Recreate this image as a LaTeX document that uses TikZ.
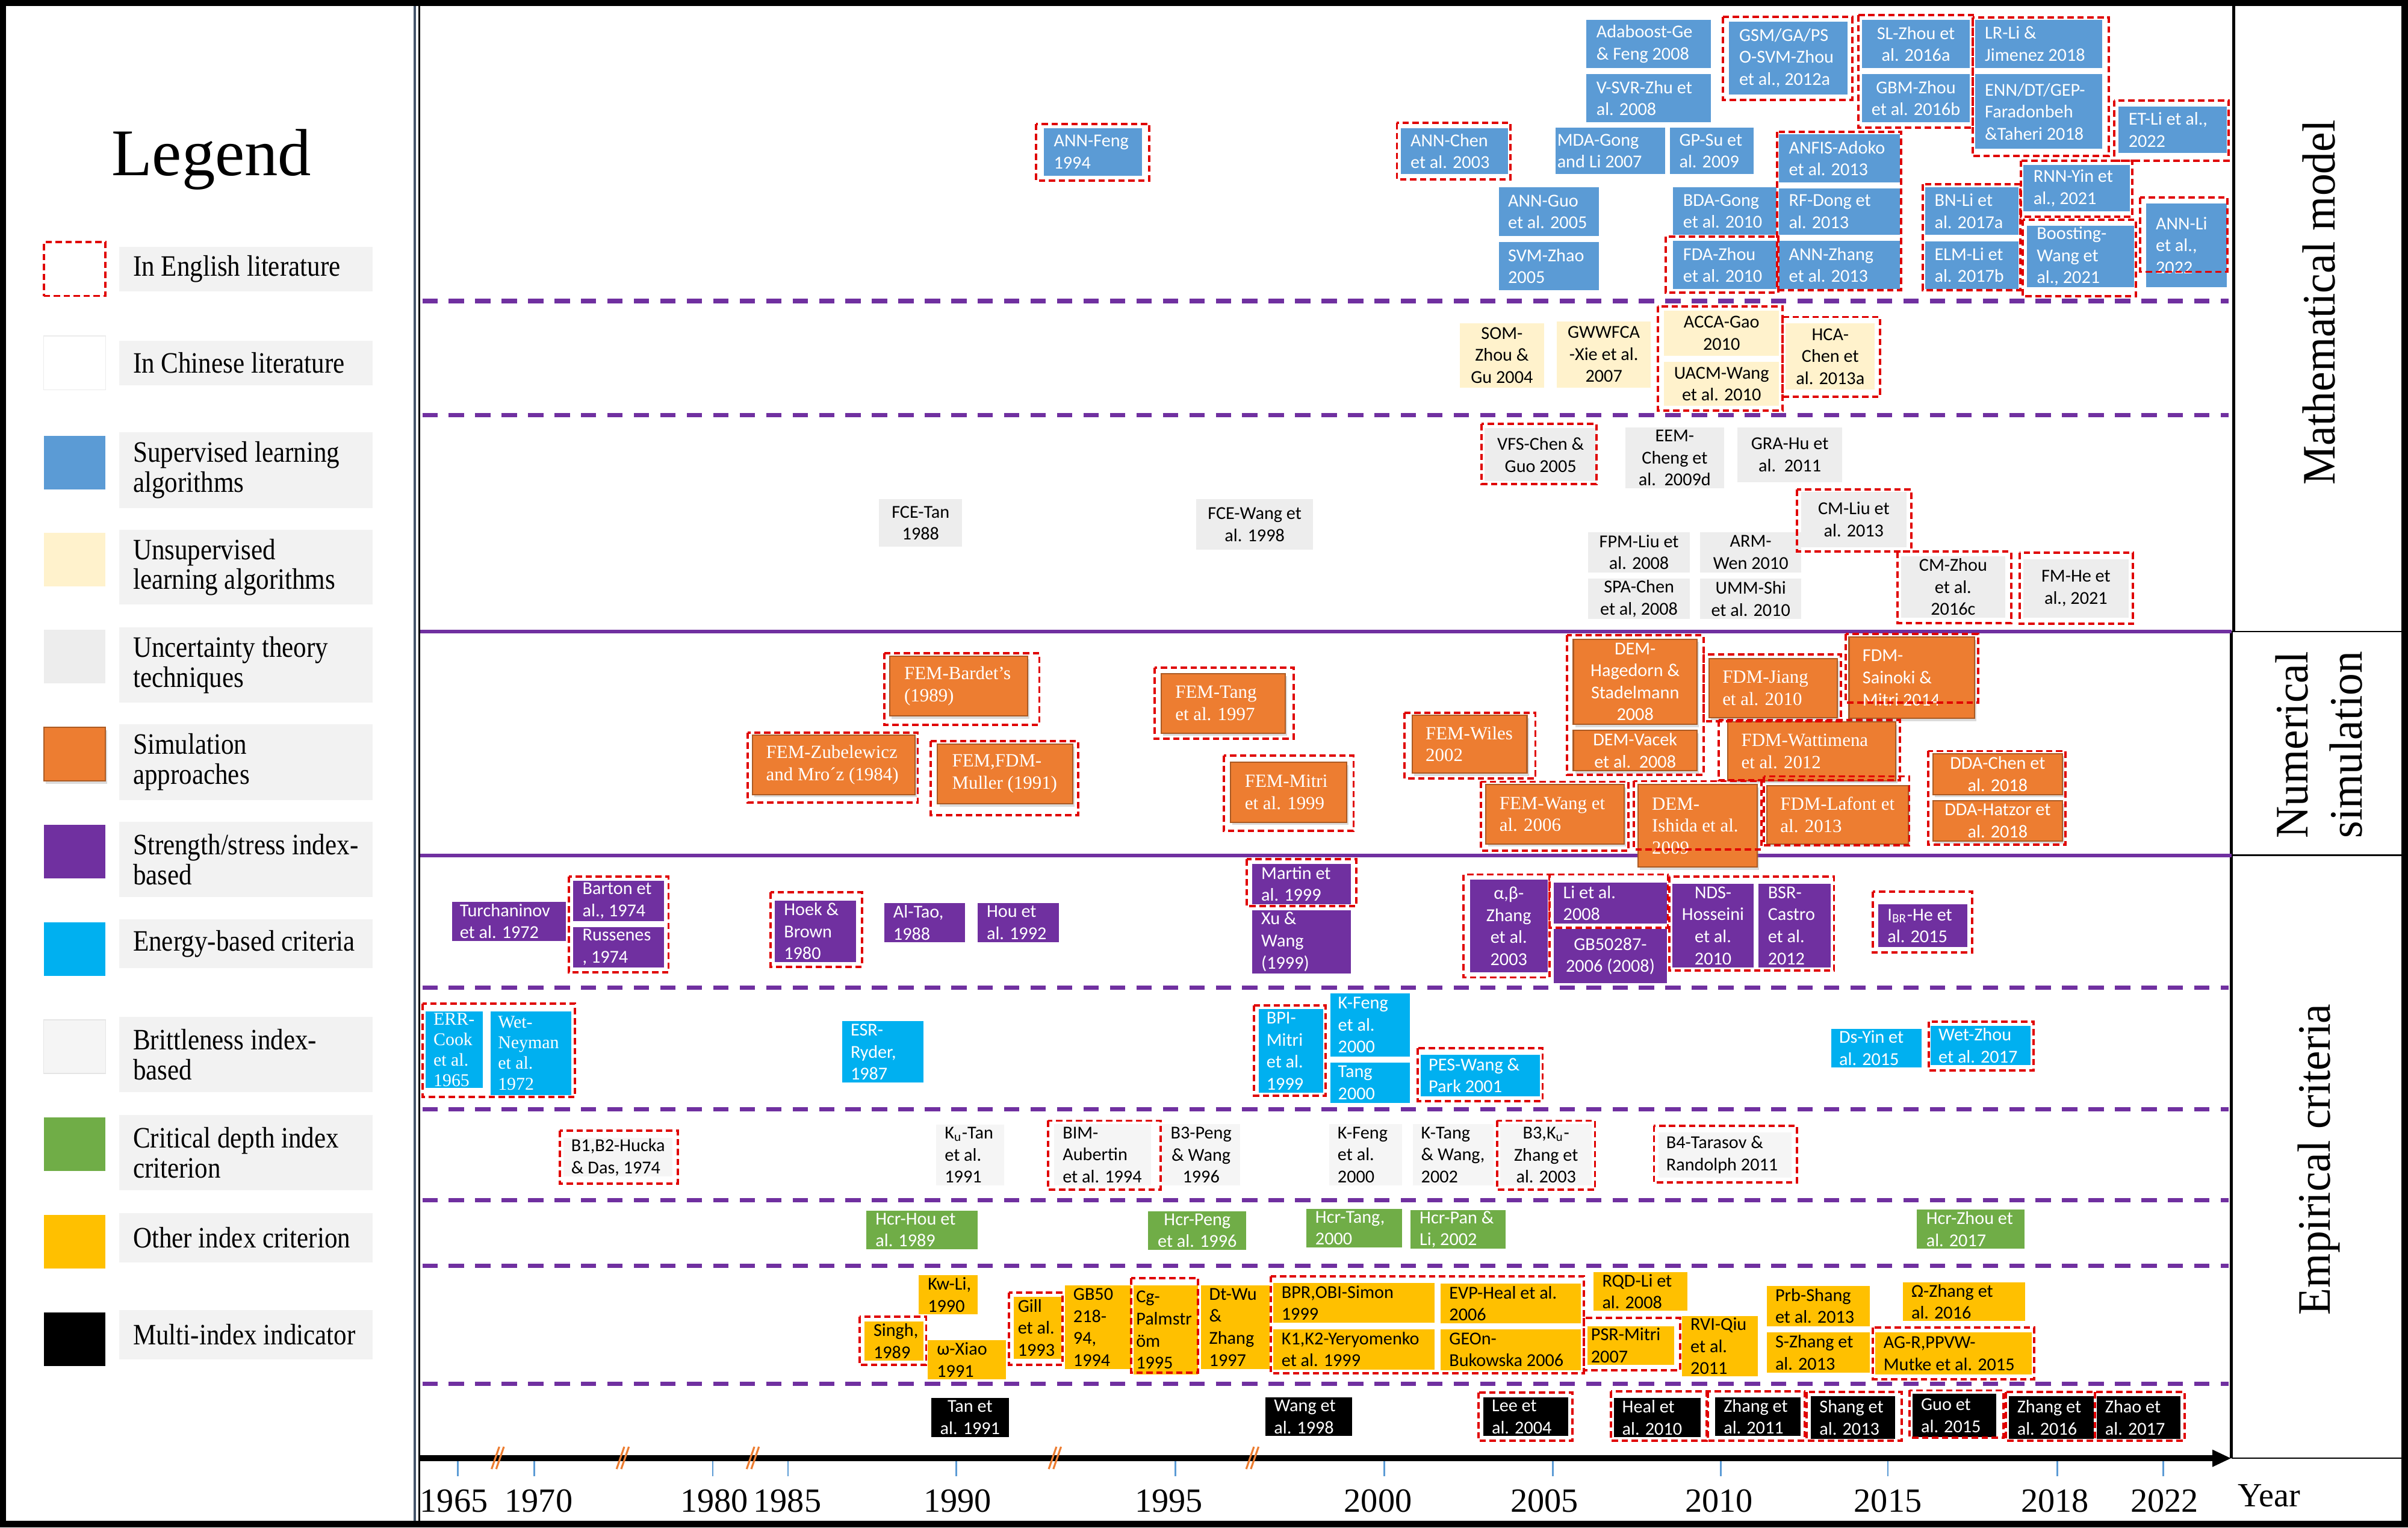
\documentclass[tikz,border=0pt]{standalone}
\usepackage{fontspec}
\setmainfont{Liberation Serif}
\newfontfamily\cbfont{Carlito}
\newfontfamily\legfont[FakeStretch=0.875]{Liberation Serif}
\newfontfamily\sidefont[FakeStretch=0.95]{Liberation Serif}
\usetikzlibrary{arrows.meta,shadows}
\definecolor{cSup}{HTML}{5B9BD5}
\definecolor{cUns}{HTML}{FFF2CC}
\definecolor{cUnc}{HTML}{EDEDED}
\definecolor{cSim}{HTML}{ED7D31}
\definecolor{cStr}{HTML}{7030A0}
\definecolor{cEne}{HTML}{00B0F0}
\definecolor{cBri}{HTML}{F5F5F5}
\definecolor{cCri}{HTML}{70AD47}
\definecolor{cOth}{HTML}{FFC000}
\definecolor{cRed}{HTML}{E00000}
\definecolor{cPur}{HTML}{7030A0}
\definecolor{cLeg}{HTML}{F2F2F2}
\definecolor{cTick}{HTML}{5B9BD5}
\definecolor{cFrame}{HTML}{44546A}
\def\upt{0.725835}
\def\bxc{c}
\newcommand{\bx}[8][5.5]{%
  \pgfmathsetmacro\bxw{(#6-#4)*\upt}%
  \pgfmathsetmacro\bxh{(#7-#5)*\upt}%
  \node[boxbg,#3,bgpart,minimum width=\bxw pt,minimum height=\bxh pt] (#2) at ({(#4+#6)/2},{(#5+#7)/2}) {};%
  \def\bxopt{#1}%
  \ifx\bxopt\bxc
    \node[boxtxt,#3,fill=none,draw=none,align=center] (#2t) at (#2.center) {#8};%
  \else
    \node[boxtxt,#3,fill=none,draw=none,align=left,anchor=west] (#2t) at ({#4+#1},{(#5+#7)/2}) {#8};%
  \fi}
\newcommand{\en}[4]{\draw[eng] (#1,#2) rectangle (#3,#4);}
\newcommand{\legitem}[6]{%
  \node[swatch,#2,bgpart,anchor=north west] (#1s) at (28.5,#3) {};%
  \pgfmathsetmacro\lgh{(#5-#4)*\upt}%
  \node[legbg,anchor=north west,minimum height=\lgh pt] (#1b) at (77.8,#4) {};%
  \node[legtxt,anchor=west] (#1t) at (86.4,{(#4+#5)/2}) {#6};}
\tikzset{
  bgpart/.style={},
  boxbg/.style={inner sep=0pt,outer sep=0pt,draw=none},
  boxtxt/.style={inner sep=0pt,outer sep=0pt,text=black,font=\cbfont\fontsize{8.6}{10.4}\selectfont},
  bxsup/.style={fill=cSup,text=white},
  bxuns/.style={fill=cUns,text=black},
  bxunc/.style={fill=cUnc,text=black},
  bxsim/.style={fill=cSim,draw=cSim!72!black,line width=0.6pt,text=white,font=\rmfamily\fontsize{8.8}{10.4}\selectfont,
     bgpart/.style={drop shadow={opacity=0.28,shadow xshift=0.9pt,shadow yshift=-1.3pt}}},
  sansbx/.style={font=\cbfont\fontsize{8.6}{10.4}\selectfont},
  seriftxt/.style={font=\rmfamily\fontsize{8.5}{9.7}\selectfont},
  bxstr/.style={fill=cStr,text=white},
  bxene/.style={fill=cEne,text=white},
  bxbri/.style={fill=cBri,text=black},
  bxcri/.style={fill=cCri,text=white},
  bxoth/.style={fill=cOth,text=black},
  bxmul/.style={fill=black,text=white},
  eng/.style={draw=cRed,line width=1.1pt,dash pattern=on 3pt off 1.7pt},
  subsep/.style={draw=cPur,line width=2pt,dash pattern=on 7.2pt off 5.3pt},
  mainsep/.style={draw=cPur,line width=1.8pt},
  swatch/.style={minimum width=29.18pt,minimum height=25.4pt,inner sep=0pt,outer sep=0pt},
  swchn/.style={fill=white,draw=black!8,line width=0.4pt},
  swbri/.style={fill=cBri,draw=black!10,line width=0.4pt},
  legbg/.style={fill=cLeg,minimum width=119.6pt,inner sep=0pt,outer sep=0pt},
  legtxt/.style={inner sep=0pt,align=left,font=\legfont\fontsize{14}{14.2}\selectfont},
  sidelab/.style={font=\sidefont\fontsize{22}{25.4}\selectfont,rotate=90,inner sep=0pt},
  yearlab/.style={font=\rmfamily\fontsize{16}{18}\selectfont,inner sep=0pt},
  brk/.style={draw=cSim,line width=0.9pt},
  tick/.style={draw=cTick,line width=0.8pt}
}
\begin{document}
\begin{tikzpicture}[x=0.725835pt,y=-0.725835pt]
\useasboundingbox (0,0) rectangle (1568,994.6);
\fill[black] (0,0) rectangle (1568,994.6);
\fill[white] (4,4) rectangle (1563.7,990);
% panel separators
\draw[cFrame,line width=1.1pt] (270.2,4) -- (270.2,990);
\draw[black,line width=0.8pt] (273.1,4) -- (273.1,990);
\draw[black,line width=1.5pt] (1454.5,4) -- (1454.5,411.2);
\draw[black,line width=1.5pt] (1452.8,411.2) -- (1452.8,949.5);
\draw[black,line width=0.7pt] (1453,411.2) -- (1563.7,411.2);
\draw[black,line width=0.7pt] (1453,556.9) -- (1563.7,556.9);
\draw[black,line width=0.7pt] (1453,949.5) -- (1563.7,949.5);
% category separators
\draw[mainsep] (273.5,411.2) -- (1453,411.2);
\draw[mainsep] (273.5,556.9) -- (1453,556.9);
\foreach \yy in {196,270.3,643.1,722.3,781.4,824.3,901}{\draw[subsep] (275,\yy) -- (1451,\yy);}
% legend
\node[font=\rmfamily\fontsize{31.5}{34}\selectfont,anchor=base,inner sep=0pt] (legtitle) at (137.7,114.4) {Legend};
\legitem{l1}{eng}{157.7}{160.9}{189.6}{In English literature}
\legitem{l2}{swchn}{218.8}{222}{250.7}{In Chinese literature}
\legitem{l3}{bxsup}{283.8}{281.6}{330.7}{Supervised learning\\algorithms}
\legitem{l4}{bxuns}{346.9}{345}{393.7}{Unsupervised\\learning algorithms}
\legitem{l5}{bxunc}{410}{408.6}{457.4}{Uncertainty theory\\techniques}
\legitem{l6}{bxsim}{473.6}{471.5}{521}{Simulation\\approaches}
\legitem{l7}{bxstr}{537}{535}{584}{Strength/stress index-\\based}
\legitem{l8}{bxene}{600.5}{598.5}{630.5}{Energy-based criteria}
\legitem{l9}{swbri}{664}{662}{711}{Brittleness index-\\based}
\legitem{l10}{bxcri}{727.5}{726}{775}{Critical depth index\\criterion}
\legitem{l11}{bxoth}{791}{790}{822}{Other index criterion}
\legitem{l12}{bxmul}{854.5}{853}{885}{Multi-index indicator}
% side labels
\node[sidelab] (mm) at (1510,197) {Mathematical model};
\node[sidelab,align=center] (ns) at (1510,485) {Numerical\\simulation};
\node[sidelab] (ec) at (1510,755) {Empirical criteria};
% ---------- supervised
\bx[6.5]{b1}{bxsup}{679.7}{83.6}{743.8}{114.3}{ANN-Feng\\1994}
\bx[6.5]{b2}{bxsup}{912}{83.4}{982}{113.4}{ANN-Chen\\et al. 2003}
\bx[6]{b3}{bxsup}{976}{122}{1041}{153.7}{ANN-Guo\\et al. 2005}
\bx[6]{b4}{bxsup}{976}{157.6}{1041}{189}{SVM-Zhao\\2005}
\bx[1]{b5}{bxsup}{1013}{83.3}{1084.4}{113.4}{MDA-Gong\\and Li 2007}
\bx[6]{b6}{bxsup}{1087.5}{83.2}{1142}{113.4}{GP-Su et\\al. 2009}
\bx[6.5]{b7}{bxsup}{1033}{12.8}{1114}{44.4}{Adaboost-Ge\\\& Feng 2008}
\bx[6.5]{b8}{bxsup}{1033}{48.3}{1114}{79.5}{V-SVR-Zhu et\\al. 2008}
\bx[6.5]{b9}{bxsup}{1126}{14.1}{1203}{61.4}{GSM/GA/PS\\O-SVM-Zhou\\et al., 2012a}
\bx[6.5]{b10}{bxsup}{1089.5}{122}{1156.8}{153}{BDA-Gong\\et al. 2010}
\bx[6.5]{b11}{bxsup}{1089.5}{156.8}{1156.8}{188.2}{FDA-Zhou\\et al. 2010}
\bx[6.5]{b12}{bxsup}{1158.4}{87.3}{1237}{118.9}{ANFIS-Adoko\\et al. 2013}
\bx[6.5]{b13}{bxsup}{1158.4}{122.8}{1237}{152.9}{RF-Dong et\\al. 2013}
\bx[6.5]{b14}{bxsup}{1158.4}{156.8}{1237}{188.2}{ANN-Zhang\\et al. 2013}
\bx[c]{b15}{bxsup}{1212.5}{12.8}{1282.6}{44.4}{SL-Zhou et\\al. 2016a}
\bx[c]{b16}{bxsup}{1212.5}{48.3}{1282.6}{79.7}{GBM-Zhou\\et al. 2016b}
\bx[6.5]{b17}{bxsup}{1286}{12.8}{1369}{44.4}{LR-Li \&\\Jimenez 2018}
\bx[6.5]{b18}{bxsup}{1286}{48.3}{1369}{97}{ENN/DT/GEP-\\Faradonbeh\\\&Taheri 2018}
\bx[6.5]{b19}{bxsup}{1379.5}{69.3}{1450}{99.6}{ET-Li et al.,\\2022}
\bx[6]{b20}{bxsup}{1253.7}{122}{1314.3}{153}{BN-Li et\\al. 2017a}
\bx[6]{b21}{bxsup}{1253.7}{157}{1314.3}{188}{ELM-Li et\\al. 2017b}
\bx[6.5]{b22}{bxsup}{1317.6}{107.4}{1387}{137.5}{RNN-Yin et\\al., 2021}
\bx[6.5]{b23}{bxsup}{1319.8}{147}{1389.7}{186.9}{Boosting-\\Wang et\\al., 2021}
\bx[6.5]{b24}{bxsup}{1397.3}{132.6}{1450}{186.9}{ANN-Li\\et al.,\\2022}
% ---------- unsupervised
\bx[c]{b25}{bxuns}{950.4}{210.5}{1005.6}{252.3}{SOM-\\Zhou \&\\Gu 2004}
\bx[c]{b26}{bxuns}{1013.7}{209.2}{1075}{252.3}{GWWFCA\\-Xie et al.\\2007}
\bx[c]{b27}{bxuns}{1083.6}{202.2}{1158.4}{231.6}{ACCA-Gao\\2010}
\bx[c]{b28}{bxuns}{1083.6}{235.7}{1158.4}{264.4}{UACM-Wang\\et al. 2010}
\bx[c]{b29}{bxuns}{1162.8}{210.5}{1220.8}{253.6}{HCA-\\Chen et\\al. 2013a}
% ---------- uncertainty
\bx[c]{b30}{bxunc}{572.5}{325}{626.5}{356}{FCE-Tan\\1988}
\bx[c]{b31}{bxunc}{779}{325}{855}{358}{FCE-Wang et\\al. 1998}
\bx[c]{b32}{bxunc}{966.7}{278.9}{1039.7}{313.4}{VFS-Chen \&\\Guo 2005}
\bx[c]{b33}{bxunc}{1058.3}{278.2}{1122.7}{318}{EEM-\\Cheng et\\al.~~2009d}
\bx[c]{b34}{bxunc}{1131.3}{278.2}{1199.6}{314}{GRA-Hu et\\al.~~2011}
\bx[c]{b35}{bxunc}{1172.9}{320.2}{1241.3}{356.2}{CM-Liu et\\al. 2013}
\bx[c]{b36}{bxunc}{1034}{346.4}{1100.5}{372.7}{FPM-Liu et\\al. 2008}
\bx[c]{b37}{bxunc}{1034}{376.9}{1100.5}{402.8}{SPA-Chen\\et al, 2008}
\bx[c]{b38}{bxunc}{1107}{346.4}{1173}{372.7}{ARM-\\Wen 2010}
\bx[c]{b39}{bxunc}{1107}{376.9}{1173}{402.8}{UMM-Shi\\et al. 2010}
\bx[c]{b40}{bxunc}{1238}{362.2}{1305.6}{402}{CM-Zhou\\et al.\\2016c}
\bx[c]{b41}{bxunc}{1317.5}{364}{1386}{402}{FM-He et\\al., 2021}
% ---------- numerical simulation
\bx[9.5]{b42}{bxsim}{579.3}{427.3}{669}{466.1}{FEM-Bardet’s\\(1989)}
\bx[9]{b43}{bxsim}{489.9}{478.6}{595.8}{517.4}{FEM-Zubelewicz\\and Mro´z (1984)}
\bx[9.5]{b44}{bxsim}{610.5}{484.4}{698.4}{523.3}{FEM,FDM-\\Muller (1991)}
\bx[9.3]{b45}{bxsim}{756}{438.6}{837}{477.3}{FEM-Tang\\et al. 1997}
\bx[9.3]{b46}{bxsim}{801.3}{496.3}{876.9}{535.3}{FEM-Mitri\\et al. 1999}
\bx[8.8]{b47}{bxsim}{919.5}{465.7}{994.3}{503.4}{FEM-Wiles\\2002}
\bx[c]{b48}{bxsim,sansbx}{1024.5}{416.2}{1105}{471.7}{DEM-\\Hagedorn \&\\Stadelmann\\2008}
\bx[c]{b49}{bxsim,sansbx}{1024.5}{475.6}{1105}{501.8}{DEM-Vacek\\et al.~~2008}
\bx[8.8]{b50}{bxsim}{1112.8}{428.8}{1196.4}{467.1}{FDM-Jiang\\et al. 2010}
\bx[8.8]{b51}{bxsim,sansbx}{1204}{414.9}{1285.8}{467.8}{FDM-\\Sainoki \&\\Mitri 2014}
\bx[9]{b52}{bxsim}{1124.9}{470.1}{1234.3}{508.3}{FDM-Wattimena\\et al. 2012}
\bx[c]{b53}{bxsim,sansbx}{1258.6}{490.7}{1343}{517.4}{DDA-Chen et\\al. 2018}
\bx[c]{b54}{bxsim,sansbx}{1258.6}{521.4}{1343}{547.5}{DDA-Hatzor et\\al. 2018}
\bx[8.8]{b55}{bxsim}{967.6}{510.9}{1057.5}{549.5}{FEM-Wang et\\al. 2006}
\bx[9]{b56}{bxsim}{1066.7}{510.9}{1144.1}{564.5}{DEM-\\Ishida et al.\\2009}
\bx[8.8]{b57}{bxsim}{1150.5}{511.6}{1242.6}{549.5}{FDM-Lafont et\\al. 2013}
% ---------- strength / stress
\bx[5]{b58}{bxstr}{294.4}{587.1}{368.5}{612.5}{Turchaninov\\et al. 1972}
\bx[6]{b59}{bxstr}{373.3}{573.3}{432.5}{599.8}{Barton et\\al., 1974}
\bx[6]{b60}{bxstr}{373.3}{603.5}{432.5}{629.9}{Russenes\\, 1974}
\bx[6]{b61}{bxstr}{504.5}{586.4}{557.3}{626.3}{Hoek \&\\Brown\\1980}
\bx[6]{b62}{bxstr}{575.7}{588.1}{628.5}{613.5}{Al-Tao,\\1988}
\bx[6]{b63}{bxstr}{636.5}{588.1}{689.7}{613.5}{Hou et\\al. 1992}
\bx[6]{b64}{bxstr}{815.3}{562.4}{879.7}{588.6}{Martin et\\al. 1999}
\bx[6]{b65}{bxstr}{815.3}{592.6}{879.7}{633.8}{Xu \&\\Wang\\(1999)}
\bx[c]{b66}{bxstr}{957.1}{572.9}{1007.8}{633.1}{α,β-\\Zhang\\et al.\\2003}
\bx[6]{b67}{bxstr}{1011.9}{574.8}{1085.3}{601.3}{Li et al.\\2008}
\bx[c]{b68}{bxstr}{1011.9}{605}{1085.3}{640.3}{GB50287-\\2006 (2008)}
\bx[c]{b69}{bxstr}{1089}{575.5}{1141.9}{629.9}{NDS-\\Hosseini\\et al.\\2010}
\bx[6]{b70}{bxstr}{1145.2}{575.5}{1192.2}{629.9}{BSR-\\Castro\\et al.\\2012}
\bx[6]{b71}{bxstr}{1223.1}{588.8}{1280.9}{616.8}{I\textsubscript{BR}-He et\\al. 2015}
% ---------- energy
\bx[5]{b72}{bxene,seriftxt}{277.3}{658.4}{314.5}{708.5}{ERR-\\Cook\\et al.\\1965}
\bx[5]{b73}{bxene,seriftxt}{319.3}{658.4}{372.1}{713}{Wet-\\Neyman\\et al.\\1972}
\bx[5.5]{b74}{bxene}{548.4}{665}{601.3}{705}{ESR-\\Ryder,\\1987}
\bx[5]{b75}{bxene}{819.7}{657.1}{861.6}{711.5}{BPI-\\Mitri\\et al.\\1999}
\bx[5]{b76}{bxene}{866.3}{646.8}{917.9}{687.9}{K-Feng\\et al.\\2000}
\bx[5]{b77}{bxene}{866.3}{691.8}{917.9}{718.1}{Tang\\2000}
\bx[5]{b78}{bxene}{925.3}{686.9}{1002.9}{713.7}{PES-Wang \&\\Park 2001}
\bx[5]{b79}{bxene}{1192.6}{669.8}{1251.2}{695.1}{Ds-Yin et\\al. 2015}
\bx[5]{b80}{bxene}{1257.3}{668}{1322.1}{693.4}{Wet-Zhou\\et al. 2017}
% ---------- brittleness
\bx[5]{b81}{bxbri}{367}{741}{438}{766}{B1,B2-Hucka\\\& Das, 1974}
\bx[5.5]{b82}{bxbri}{609.7}{732.1}{653.7}{772}{K\textsubscript{u}-Tan\\et al.\\1991}
\bx[5.5]{b83}{bxbri}{686.5}{732}{749.3}{772}{BIM-\\Aubertin\\et al. 1994}
\bx[c]{b84}{bxbri}{756.5}{732}{807.7}{772}{B3-Peng\\\& Wang\\1996}
\bx[5.5]{b85}{bxbri}{865.5}{732}{912.9}{772}{K-Feng\\et al.\\2000}
\bx[5.5]{b86}{bxbri}{919.9}{732}{972.7}{772}{K-Tang\\\& Wang,\\2002}
\bx[c]{b87}{bxbri}{976.9}{732}{1036.6}{772}{B3,K\textsubscript{u}-\\Zhang et\\al. 2003}
\bx[5]{b88}{bxbri}{1080}{737.2}{1166.6}{766.6}{B4-Tarasov \&\\Randolph 2011}
% ---------- critical depth
\bx[6]{b89}{bxcri}{564.1}{788.2}{636.6}{813.4}{Hcr-Hou et\\al. 1989}
\bx[c]{b90}{bxcri}{747.7}{788.6}{811.5}{813.7}{Hcr-Peng\\et al. 1996}
\bx[6]{b91}{bxcri}{850.5}{787}{912.9}{812.4}{Hcr-Tang,\\2000}
\bx[6]{b92}{bxcri}{918.4}{788}{980.4}{813}{Hcr-Pan \&\\Li, 2002}
\bx[6]{b93}{bxcri}{1248.3}{787.6}{1318.1}{813.1}{Hcr-Zhou et\\al. 2017}
% ---------- other index
\bx[6]{b94}{bxoth}{598.2}{830.4}{636.6}{855.6}{Kw-Li,\\1990}
\bx[6]{b95}{bxoth}{562.8}{860.4}{601.5}{885.9}{Singh,\\1989}
\bx[6]{b96}{bxoth}{604.1}{872.6}{655}{898}{ω-Xiao\\1991}
\bx[2.5]{b97}{bxoth}{660.3}{844.5}{691.2}{884.6}{Gill\\et al.\\1993}
\bx[5.5]{b98}{bxoth}{693.4}{836.9}{736.7}{891.4}{GB50\\218-\\94,\\1994}
\bx[1.5]{b99}{bxoth}{738.3}{836.9}{780.2}{895}{Cg-\\Palmstr\\öm\\1995}
\bx[5.5]{b100}{bxoth}{781.9}{836.9}{826.7}{891.4}{Dt-Wu\\\&\\Zhang\\1997}
\bx[5.5]{b101}{bxoth}{829}{835.2}{934}{861.4}{BPR,OBI-Simon\\1999}
\bx[5.5]{b102}{bxoth}{829}{865.4}{934}{891.8}{K1,K2-Yeryomenko\\et al. 1999}
\bx[5.5]{b103}{bxoth}{938.2}{835.6}{1029.2}{861.8}{EVP-Heal et al.\\2006}
\bx[5.5]{b104}{bxoth}{938.2}{865.4}{1029.2}{892}{GEOn-\\Bukowska 2006}
\bx[5.5]{b105}{bxoth}{1037.8}{828.4}{1098.8}{853.5}{RQD-Li et\\al. 2008}
\bx[2.5]{b106}{bxoth}{1033.5}{863.4}{1090.2}{888.6}{PSR-Mitri\\2007}
\bx[5.5]{b107}{bxoth}{1095.3}{856.9}{1144.8}{896.1}{RVI-Qiu\\et al.\\2011}
\bx[5.5]{b108}{bxoth}{1150.5}{837.3}{1217.6}{863.4}{Prb-Shang\\et al. 2013}
\bx[5.5]{b109}{bxoth}{1150.5}{867.6}{1217.6}{893.8}{S-Zhang et\\al. 2013}
\bx[5.5]{b110}{bxoth}{1239.1}{835}{1318.7}{860.2}{Ω-Zhang et\\al. 2016}
\bx[5.5]{b111}{bxoth}{1221}{867.6}{1323}{895}{AG-R,PPVW-\\Mutke et al. 2015}
% ---------- multi index
\bx[c]{b112}{bxmul}{606.3}{910.4}{657}{935.6}{Tan et\\al. 1991}
\bx[5.5]{b113}{bxmul}{824.1}{910}{880.4}{935}{Wang et\\al. 1998}
\bx[5.5]{b114}{bxmul}{965.9}{910}{1021.1}{935}{Lee et\\al. 2004}
\bx[5.5]{b115}{bxmul}{1050.8}{910.4}{1107.4}{935.6}{Heal et\\al. 2010}
\bx[5.5]{b116}{bxmul}{1116.9}{910}{1172.6}{935}{Zhang et\\al. 2011}
\bx[5.5]{b117}{bxmul}{1179.3}{909}{1233.9}{936.8}{Shang et\\al. 2013}
\bx[5.5]{b118}{bxmul}{1245.4}{907.5}{1300}{935.8}{Guo et\\al. 2015}
\bx[5.5]{b119}{bxmul}{1308}{909}{1363.3}{936.8}{Zhang et\\al. 2016}
\bx[5.5]{b120}{bxmul}{1365.3}{909}{1420}{936.8}{Zhao et\\al. 2017}
% ---------- English literature outlines
\en{674.6}{80.6}{748.3}{117.6}
\en{909.6}{80}{983.5}{116.8}
\en{1122}{11.1}{1206}{65}
\en{1084.5}{154}{1158}{190.5}
\en{1157}{85.8}{1238}{188.8}
\en{1210}{9.8}{1284.6}{83}
\en{1284.6}{11.5}{1373}{101.7}
\en{1376.7}{65.3}{1451}{104.5}
\en{1252}{120}{1315.5}{188.8}
\en{1316}{104.5}{1388.5}{141}
\en{1317}{143}{1390.8}{193}
\en{1393.6}{128.7}{1450.5}{177}
\en{1079.6}{199.4}{1160.7}{267.3}
\en{1160.7}{206.4}{1224.3}{258.2}
\en{964.8}{276}{1039.7}{315.2}
\en{1170}{318.7}{1244.5}{359}
\en{1235.6}{359.2}{1309.5}{405.6}
\en{1315}{360}{1389}{406}
\en{576}{425.3}{676.8}{472}
\en{486.9}{477}{597.6}{522.6}
\en{606}{482.4}{702}{530.8}
\en{751.8}{434.7}{842.4}{480.9}
\en{796.8}{492}{881.4}{541}
\en{914.6}{464}{999.8}{507}
\en{1020.4}{413.6}{1109.2}{504.5}
\en{1109.2}{426}{1198.6}{469.7}
\en{1201.9}{412.9}{1288}{457.3}
\en{1119}{469}{1237}{508}
\en{1255.4}{489}{1345}{550}
\en{964.4}{509}{1060.5}{553.8}
\en{1064}{508.6}{1146.9}{553}
\en{1148.4}{505.5}{1243.2}{550.5}
\en{370.4}{570.7}{435.3}{633.1}
\en{501.7}{581}{561.3}{629.4}
\en{811.7}{559.5}{883.2}{590}
\en{953}{569.4}{1009}{636.4}
\en{1008.8}{569.4}{1086}{604}
\en{1087}{570.7}{1194.2}{632}
\en{1219.4}{580.4}{1284.2}{620.1}
\en{275.2}{653.5}{374.5}{714.2}
\en{816.6}{654.5}{863.2}{713.5}
\en{923.3}{682.5}{1004.5}{716.9}
\en{1256}{665.1}{1324.2}{697}
\en{364.5}{736.2}{441.3}{770.5}
\en{682.5}{729.7}{755.7}{774.5}
\en{974.9}{729.7}{1038.6}{774.5}
\en{1077}{733}{1170}{770}
\en{559.6}{857.4}{603.1}{888.8}
\en{657}{841.5}{691.8}{888.8}
\en{736.7}{832.3}{780.2}{893.8}
\en{827.4}{831}{1031.5}{894.2}
\en{1031.2}{858.2}{1093.9}{892.2}
\en{1219.6}{864.4}{1324.6}{898}
\en{962.6}{906.6}{1024}{938.2}
\en{1049}{906}{1111.3}{938}
\en{1112}{906}{1175}{938}
\en{1176.4}{906.4}{1238.2}{938}
\en{1243.4}{905.3}{1304.4}{936}
\en{1306.2}{906.4}{1422.6}{938}
\draw[eng] (1364.3,906.4) -- (1364.3,938);
% ---------- time axis
\foreach \xx in {298.1,347.9,464.1,513.1,622.6,765.4,901.5,1011.1,1120.6,1229.3,1339.8,1408.6}{\draw[tick] (\xx,950) -- (\xx,961);}
\coordinate (axL) at (273.5,949.5);
\coordinate (axR) at (1453,949.5);
\draw[black,line width=2.9pt,-{Triangle[length=9pt,width=7.5pt]}] (axL) -- (axR);
\foreach \xx in {324.6,406,490.7,687.4,816}{\draw[brk] ({\xx-4.5},956.5) -- ({\xx+0.5},942); \draw[brk] ({\xx-1.5},956.5) -- ({\xx+3.5},942);}
\foreach \yr/\xx in {1965/295.6,1970/350.8,1980/465,1985/512.7,1990/623.4,1995/761.2,2000/897.3,2005/1005.7,2010/1119.4,2015/1229.3,2018/1338.1,2022/1409.4}{\node[yearlab,anchor=base] (y\yr) at (\xx,984.6) {\yr};}
\node[yearlab,anchor=base west] (yearl) at (1457,981) {Year};
\end{tikzpicture}
\end{document}
